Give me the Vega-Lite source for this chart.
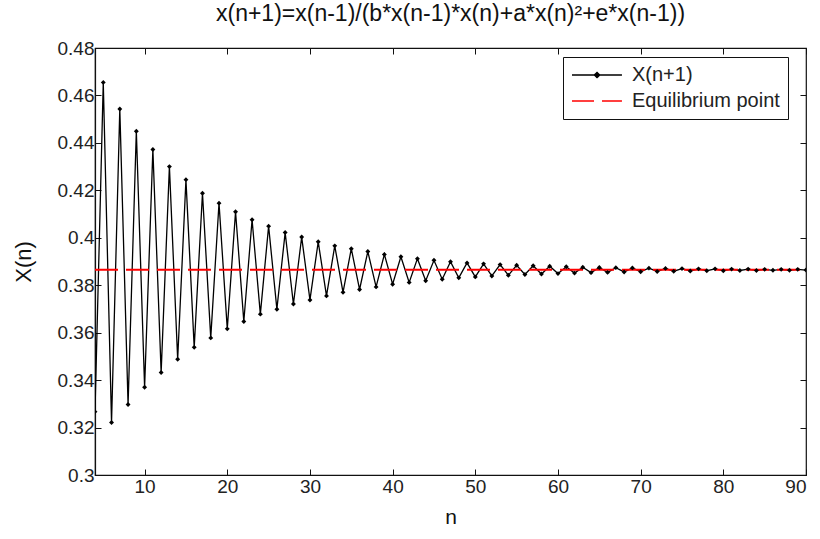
{
  "$schema": "https://vega.github.io/schema/vega-lite/v6.json",
  "width": 711,
  "height": 427,
  "autosize": {"type": "none"},
  "padding": {"left": 95, "top": 48, "right": 14, "bottom": 64},
  "background": "white",
  "title": {"text": "x(n+1)=x(n-1)/(b*x(n-1)*x(n)+a*x(n)²+e*x(n-1))", "fontSize": 23, "fontWeight": "normal", "font": "Liberation Sans", "color": "#111", "offset": 13, "anchor": "middle"},
  "config": {
    "view": {"stroke": "#111", "strokeWidth": 1.2},
    "axis": {"grid": false, "domainColor": "#111", "domainWidth": 1.2, "tickColor": "#111", "labelColor": "#222", "labelFont": "Liberation Sans", "labelFontSize": 19, "titleFont": "Liberation Sans", "titleFontWeight": "normal", "titleColor": "#111", "tickSize": -6, "labelPadding": 7}
  },
  "data": {"values": [
    {"n": 4, "x": 0.3267, "series": "X(n+1)"},
    {"n": 5, "x": 0.4655, "series": "X(n+1)"},
    {"n": 6, "x": 0.3221, "series": "X(n+1)"},
    {"n": 7, "x": 0.4543, "series": "X(n+1)"},
    {"n": 8, "x": 0.3297, "series": "X(n+1)"},
    {"n": 9, "x": 0.4449, "series": "X(n+1)"},
    {"n": 10, "x": 0.3370, "series": "X(n+1)"},
    {"n": 11, "x": 0.4372, "series": "X(n+1)"},
    {"n": 12, "x": 0.3432, "series": "X(n+1)"},
    {"n": 13, "x": 0.4300, "series": "X(n+1)"},
    {"n": 14, "x": 0.3488, "series": "X(n+1)"},
    {"n": 15, "x": 0.4245, "series": "X(n+1)"},
    {"n": 16, "x": 0.3538, "series": "X(n+1)"},
    {"n": 17, "x": 0.4188, "series": "X(n+1)"},
    {"n": 18, "x": 0.3578, "series": "X(n+1)"},
    {"n": 19, "x": 0.4146, "series": "X(n+1)"},
    {"n": 20, "x": 0.3616, "series": "X(n+1)"},
    {"n": 21, "x": 0.4110, "series": "X(n+1)"},
    {"n": 22, "x": 0.3647, "series": "X(n+1)"},
    {"n": 23, "x": 0.4076, "series": "X(n+1)"},
    {"n": 24, "x": 0.3678, "series": "X(n+1)"},
    {"n": 25, "x": 0.4049, "series": "X(n+1)"},
    {"n": 26, "x": 0.3699, "series": "X(n+1)"},
    {"n": 27, "x": 0.4022, "series": "X(n+1)"},
    {"n": 28, "x": 0.3721, "series": "X(n+1)"},
    {"n": 29, "x": 0.4003, "series": "X(n+1)"},
    {"n": 30, "x": 0.3738, "series": "X(n+1)"},
    {"n": 31, "x": 0.3983, "series": "X(n+1)"},
    {"n": 32, "x": 0.3755, "series": "X(n+1)"},
    {"n": 33, "x": 0.3966, "series": "X(n+1)"},
    {"n": 34, "x": 0.3770, "series": "X(n+1)"},
    {"n": 35, "x": 0.3954, "series": "X(n+1)"},
    {"n": 36, "x": 0.3782, "series": "X(n+1)"},
    {"n": 37, "x": 0.3942, "series": "X(n+1)"},
    {"n": 38, "x": 0.3793, "series": "X(n+1)"},
    {"n": 39, "x": 0.3930, "series": "X(n+1)"},
    {"n": 40, "x": 0.3804, "series": "X(n+1)"},
    {"n": 41, "x": 0.3920, "series": "X(n+1)"},
    {"n": 42, "x": 0.3812, "series": "X(n+1)"},
    {"n": 43, "x": 0.3912, "series": "X(n+1)"},
    {"n": 44, "x": 0.3819, "series": "X(n+1)"},
    {"n": 45, "x": 0.3905, "series": "X(n+1)"},
    {"n": 46, "x": 0.3825, "series": "X(n+1)"},
    {"n": 47, "x": 0.3899, "series": "X(n+1)"},
    {"n": 48, "x": 0.3831, "series": "X(n+1)"},
    {"n": 49, "x": 0.3894, "series": "X(n+1)"},
    {"n": 50, "x": 0.3835, "series": "X(n+1)"},
    {"n": 51, "x": 0.3890, "series": "X(n+1)"},
    {"n": 52, "x": 0.3839, "series": "X(n+1)"},
    {"n": 53, "x": 0.3887, "series": "X(n+1)"},
    {"n": 54, "x": 0.3842, "series": "X(n+1)"},
    {"n": 55, "x": 0.3884, "series": "X(n+1)"},
    {"n": 56, "x": 0.3845, "series": "X(n+1)"},
    {"n": 57, "x": 0.3882, "series": "X(n+1)"},
    {"n": 58, "x": 0.3847, "series": "X(n+1)"},
    {"n": 59, "x": 0.3880, "series": "X(n+1)"},
    {"n": 60, "x": 0.3849, "series": "X(n+1)"},
    {"n": 61, "x": 0.3878, "series": "X(n+1)"},
    {"n": 62, "x": 0.3851, "series": "X(n+1)"},
    {"n": 63, "x": 0.3876, "series": "X(n+1)"},
    {"n": 64, "x": 0.3853, "series": "X(n+1)"},
    {"n": 65, "x": 0.3875, "series": "X(n+1)"},
    {"n": 66, "x": 0.3854, "series": "X(n+1)"},
    {"n": 67, "x": 0.3874, "series": "X(n+1)"},
    {"n": 68, "x": 0.3856, "series": "X(n+1)"},
    {"n": 69, "x": 0.3873, "series": "X(n+1)"},
    {"n": 70, "x": 0.3857, "series": "X(n+1)"},
    {"n": 71, "x": 0.3872, "series": "X(n+1)"},
    {"n": 72, "x": 0.3858, "series": "X(n+1)"},
    {"n": 73, "x": 0.3871, "series": "X(n+1)"},
    {"n": 74, "x": 0.3859, "series": "X(n+1)"},
    {"n": 75, "x": 0.3870, "series": "X(n+1)"},
    {"n": 76, "x": 0.3860, "series": "X(n+1)"},
    {"n": 77, "x": 0.3869, "series": "X(n+1)"},
    {"n": 78, "x": 0.3861, "series": "X(n+1)"},
    {"n": 79, "x": 0.3869, "series": "X(n+1)"},
    {"n": 80, "x": 0.3861, "series": "X(n+1)"},
    {"n": 81, "x": 0.3868, "series": "X(n+1)"},
    {"n": 82, "x": 0.3862, "series": "X(n+1)"},
    {"n": 83, "x": 0.3868, "series": "X(n+1)"},
    {"n": 84, "x": 0.3862, "series": "X(n+1)"},
    {"n": 85, "x": 0.3867, "series": "X(n+1)"},
    {"n": 86, "x": 0.3863, "series": "X(n+1)"},
    {"n": 87, "x": 0.3867, "series": "X(n+1)"},
    {"n": 88, "x": 0.3863, "series": "X(n+1)"},
    {"n": 89, "x": 0.3867, "series": "X(n+1)"},
    {"n": 90, "x": 0.3864, "series": "X(n+1)"},
    {"n": 4, "x": 0.3865, "series": "Equilibrium point"},
    {"n": 90, "x": 0.3865, "series": "Equilibrium point"}
  ]},
  "resolve": {"axis": {"x": "independent", "y": "independent"}},
  "layer": [
    {
      "transform": [{"filter": "datum.series === 'X(n+1)'"}],
      "mark": {"type": "line", "strokeWidth": 1.3, "clip": true},
      "encoding": {
        "x": {"field": "n", "type": "quantitative", "scale": {"domain": [4, 90], "nice": false, "zero": false},
              "axis": {"values": [10, 20, 30, 40, 50, 60, 70, 80, 90], "title": "n", "titleFontSize": 21, "titlePadding": 10, "labelPadding": 8}},
        "y": {"field": "x", "type": "quantitative", "scale": {"domain": [0.3, 0.48], "nice": false, "zero": false},
              "axis": {"values": [0.3, 0.32, 0.34, 0.36, 0.38, 0.4, 0.42, 0.44, 0.46, 0.48], "format": ".2~f", "title": "X(n)", "titleFontSize": 22, "titlePadding": 22}},
        "color": {"field": "series", "type": "nominal",
          "scale": {"domain": ["X(n+1)", "Equilibrium point"], "range": ["black", "#ff0000"]},
          "legend": {"title": null, "orient": "none", "legendX": 468, "legendY": 9, "strokeColor": "#111", "fillColor": "white", "padding": 8, "labelFontSize": 20, "labelFont": "Liberation Sans", "labelColor": "#222", "symbolSize": 324, "symbolStrokeWidth": 1.3, "rowPadding": 6, "labelOffset": 41, "cornerRadius": 0,
            "encode": {"symbols": {"update": {
              "shape": {"signal": "datum.value === 'X(n+1)' ? 'M-1,0H4.55M1.48,0L1.78,-0.3L2.08,0L1.78,0.3Z' : 'M-1,0H4.55'"},
              "fill": {"signal": "datum.value === 'X(n+1)' ? 'black' : 'transparent'"},
              "strokeDash": {"signal": "datum.value === 'X(n+1)' ? [1,0] : [22,8]"}
            }}}}
        }
      }
    },
    {
      "transform": [{"filter": "datum.series === 'Equilibrium point'"}],
      "mark": {"type": "line", "strokeWidth": 2, "strokeDash": [23, 8], "clip": true},
      "encoding": {
        "x": {"field": "n", "type": "quantitative", "axis": null},
        "y": {"field": "x", "type": "quantitative", "axis": null},
        "color": {"field": "series", "type": "nominal"}
      }
    },
    {
      "transform": [{"filter": "datum.series === 'X(n+1)'"}],
      "mark": {"type": "point", "shape": "diamond", "filled": true, "size": 24, "color": "black", "opacity": 1, "clip": true},
      "encoding": {
        "x": {"field": "n", "type": "quantitative",
              "axis": {"orient": "top", "values": [10, 20, 30, 40, 50, 60, 70, 80, 90], "labels": false, "title": null, "domain": false}},
        "y": {"field": "x", "type": "quantitative",
              "axis": {"orient": "right", "values": [0.3, 0.32, 0.34, 0.36, 0.38, 0.4, 0.42, 0.44, 0.46, 0.48], "labels": false, "title": null, "domain": false}}
      }
    }
  ]
}
